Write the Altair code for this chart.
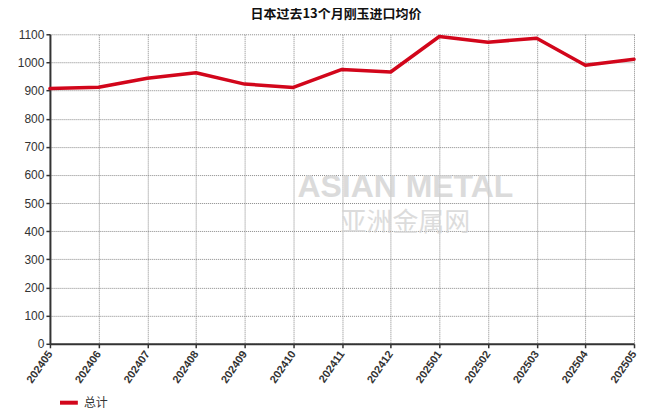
import altair as alt
import pandas as pd

months = ["202405", "202406", "202407", "202408", "202409", "202410", "202411",
          "202412", "202501", "202502", "202503", "202504", "202505"]
values = [907, 912, 944, 963, 923, 911, 975, 966, 1092, 1072, 1086, 990, 1011]
series = ["总计"] * len(months)
y_ticks = list(range(0, 1101, 100))

df = pd.DataFrame({"month": months, "value": values, "series": series})

FONT = "Liberation Sans"
RED = "#d2061b"

x_enc = alt.X("month:O", title=None, sort=months,
              scale=alt.Scale(type="point", padding=0),
              axis=alt.Axis(labelAngle=-55, labelAlign="right", labelBaseline="middle",
                            labelFontSize=11, labelFontWeight="bold", labelColor="#333",
                            labelFont=FONT, labelPadding=4,
                            grid=True, gridColor="#888", gridDash=[1, 1], gridWidth=1,
                            domainColor="#333", domainWidth=2, tickColor="#333",
                            tickSize=4, tickWidth=1.5))
y_enc = alt.Y("value:Q", title=None,
              scale=alt.Scale(domain=[0, 1100], nice=False),
              axis=alt.Axis(values=y_ticks, format="d", labelFontSize=12, labelColor="#333",
                            labelFont=FONT, labelPadding=2, minExtent=42, maxExtent=42,
                            grid=True, gridColor="#888", gridDash=[1, 1], gridWidth=1,
                            domainColor="#333", domainWidth=2, tickColor="#333",
                            tickSize=4, tickWidth=1.5))

line = alt.Chart(df).mark_line(strokeWidth=3.5, interpolate="linear",
                               strokeJoin="round", strokeCap="round").encode(
    x=x_enc, y=y_enc,
    color=alt.Color("series:N", scale=alt.Scale(domain=["总计"], range=[RED]),
                    legend=alt.Legend(title=None, orient="none", legendX=8, legendY=358,
                                      symbolType="stroke", symbolStrokeWidth=4,
                                      symbolSize=320, labelFontSize=12,
                                      labelColor="#333", labelFont="Noto Sans CJK SC"))
)

one = alt.Chart(df).transform_filter(alt.datum.month == "202405")
wm_en = one.mark_text(color="#d0d0d0", fontSize=32, font=FONT, fontWeight="bold",
                      opacity=0.75).encode(
    x=alt.value(356), y=alt.value(153), text=alt.value("ASIAN METAL"))
wm_cn = one.mark_text(color="#d4d4d4", fontSize=26, font="Noto Sans CJK SC",
                      opacity=0.8).encode(
    x=alt.value(356), y=alt.value(189), text=alt.value("亚洲金属网"))

chart = alt.layer(wm_en, wm_cn, line).properties(
    width=585, height=310,
    padding=0,
    title=alt.TitleParams("日本过去13个月刚玉进口均价", fontSize=13, fontWeight="bold",
                          font="Noto Sans CJK SC", color="#111", anchor="middle",
                          dx=-6, offset=7),
).configure_view(strokeWidth=0)

chart.save("out.html", embed_options={"renderer": "svg", "actions": False})
